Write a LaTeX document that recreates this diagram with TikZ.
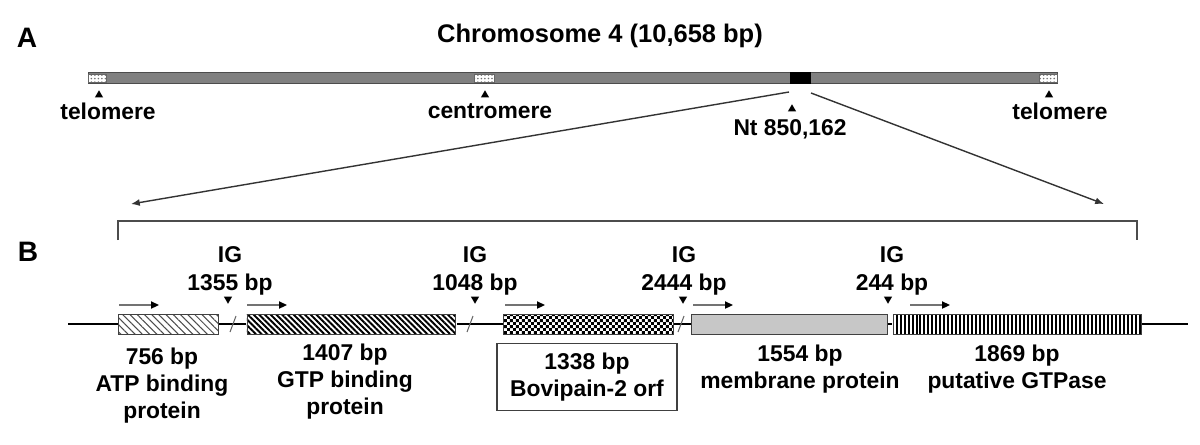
\documentclass[tikz,border=0pt]{standalone}
\usepackage{fontspec}
\setmainfont{Liberation Sans}
\usetikzlibrary{arrows.meta,patterns,patterns.meta,shapes.geometric}
\pgfdeclarepatternformonly{finecheck}{\pgfpointorigin}{\pgfpoint{3.4pt}{3.4pt}}{\pgfpoint{3.4pt}{3.4pt}}{
	\pgfpathrectangle{\pgfpointorigin}{\pgfpoint{1.7pt}{1.7pt}}
	\pgfpathrectangle{\pgfpoint{1.7pt}{1.7pt}}{\pgfpoint{1.7pt}{1.7pt}}
	\pgfusepath{fill}
}
\begin{document}
\begin{tikzpicture}[x=0.02cm, y=-0.02cm, font=\fontsize{13}{15.3}\selectfont\bfseries]
	\tikzstyle{txt}=[inner sep=0pt, align=center]
	\tikzstyle{panel}=[inner sep=0pt, font=\fontsize{16}{18}\selectfont\bfseries]
	\tikzstyle{gene}=[draw=black!75, line width=0.5pt, minimum height=4mm, inner sep=0pt, anchor=west]
	\tikzstyle{pointer}=[regular polygon, regular polygon sides=3, fill=black, inner sep=0pt, minimum size=1.9mm]
	\tikzstyle{orf}=[black!55, line width=1pt, -{Triangle[length=4.5pt, width=4pt, color=black]}]
	\tikzstyle{endcap}=[draw=black!60, line width=0.4pt, preaction={fill=white}, pattern={Dots[distance=2pt, radius=0.5pt]}, pattern color=black!55, minimum width=3.6mm, minimum height=1.6mm, inner sep=0pt]
	\useasboundingbox (0,0) rectangle (1200,444);
	
	\node[panel] (Panel-A) at (27,38) {A};
	\node[panel] (Panel-B) at (28,252) {B};
	\node[txt, font=\fontsize{14.5}{16}\selectfont\bfseries] (Title) at (600,36) {Chromosome 4 (10,658 bp)};
	
	\node[draw=black!70, fill=black!50, line width=0.5pt, minimum width=194mm, minimum height=2.1mm, inner sep=0pt] (Chr) at (573,78) {};
	\node[endcap] (Tel-L) at (97,78) {};
	\node[endcap, minimum width=4mm] (Cen) at (484,78) {};
	\node[endcap] (Tel-R) at (1048,78) {};
	\node[fill=black, minimum width=4.2mm, minimum height=2.3mm, inner sep=0pt] (Locus) at (800,78) {};
	
	\node[pointer] (Ptr-TL) at (99,95) {};
	\node[pointer] (Ptr-C) at (485,95) {};
	\node[pointer] (Ptr-TR) at (1049,95) {};
	\node[pointer] (Ptr-Nt) at (792,109) {};
	\node[txt] (Lab-TL) at (108,111) {telomere};
	\node[txt] (Lab-C) at (490,111) {centromere};
	\node[txt] (Lab-TR) at (1060,111) {telomere};
	\node[txt] (Lab-Nt) at (790,129) {Nt 850,162};
	
	\coordinate (Zoom-L) at (789,92);
	\coordinate (Zoom-R) at (811,93);
	\coordinate (Tip-L) at (131,204);
	\coordinate (Tip-R) at (1104,204);
	\draw[-{Latex[length=5pt, width=4pt]}, line width=0.8pt, black!80] (Zoom-L) -- (Tip-L);
	\draw[-{Latex[length=5pt, width=4pt]}, line width=0.8pt, black!80] (Zoom-R) -- (Tip-R);
	\draw[line width=0.8pt, black!70] (118,240) -- (118,221) -- (1137,221) -- (1137,240);
	
	\node[gene, minimum width=20mm, pattern={Lines[angle=-45, distance=2.9pt, line width=0.6pt]}, pattern color=black!70] (Gene-1) at (118,324) {};
	\node[gene, minimum width=41.8mm, pattern={Lines[angle=-45, distance=2.3pt, line width=1.1pt]}] (Gene-2) at (246,324) {};
	\node[gene, minimum width=34mm, pattern=finecheck] (Gene-3) at (503,324) {};
	\node[gene, minimum width=39.2mm, fill=black!22] (Gene-4) at (691,324) {};
	\node[gene, minimum width=49.6mm, pattern={Lines[angle=90, distance=2.268pt, line width=1.134pt]}] (Gene-5) at (892,324) {};
	
	\coordinate (Track-L) at (68,324);
	\coordinate (Track-R) at (1188,324);
	\draw[line width=0.6pt] (Track-L) -- (Gene-1.west);
	\draw[line width=0.6pt] (Gene-1.east) -- (Gene-2.west);
	\draw[line width=0.6pt] (Gene-2.east) -- (Gene-3.west);
	\draw[line width=0.6pt] (Gene-3.east) -- (Gene-4.west);
	\draw[line width=0.6pt] (Gene-4.east) -- (Gene-5.west);
	\draw[line width=0.6pt] (Gene-5.east) -- (Track-R);
	
	\draw[black!60, line width=0.6pt] (230,332) -- (236,316);
	\draw[black!60, line width=0.6pt] (467,332) -- (473,316);
	\draw[black!60, line width=0.6pt] (678,332) -- (684,316);
	
	\draw[orf] ([shift={(1,-19)}]Gene-1.west) -- ++(40,0);
	\draw[orf] ([shift={(1,-19)}]Gene-2.west) -- ++(40,0);
	\draw[orf] ([shift={(2,-19)}]Gene-3.west) -- ++(40,0);
	\draw[orf] ([shift={(2,-19)}]Gene-4.west) -- ++(40,0);
	\draw[orf] ([shift={(18,-19)}]Gene-5.west) -- ++(40,0);
	
	\node[txt, anchor=north, font=\fontsize{13}{16.3}\selectfont\bfseries] (IG-1) at (230,246) {IG\\1355 bp};
	\node[txt, anchor=north, font=\fontsize{13}{16.3}\selectfont\bfseries] (IG-2) at (475,246) {IG\\1048 bp};
	\node[txt, anchor=north, font=\fontsize{13}{16.3}\selectfont\bfseries] (IG-3) at (684,246) {IG\\2444 bp};
	\node[txt, anchor=north, font=\fontsize{13}{16.3}\selectfont\bfseries] (IG-4) at (892,246) {IG\\244 bp};
	\node[pointer, shape border rotate=180] (Ptr-1) at (228,299) {};
	\node[pointer, shape border rotate=180] (Ptr-2) at (475,299) {};
	\node[pointer, shape border rotate=180] (Ptr-3) at (683,299) {};
	\node[pointer, shape border rotate=180] (Ptr-4) at (888,299) {};
	
	\node[txt, anchor=north] (Lab-1) at (162,348) {756 bp\\ATP binding\\protein};
	\node[txt, anchor=north] (Lab-2) at (345,344) {1407 bp\\GTP binding\\protein};
	\node[txt, draw=black!75, line width=0.6pt, minimum width=36mm, minimum height=13.4mm] (Lab-3) at (587,377) {1338 bp\\Bovipain-2 orf};
	\node[txt, anchor=north] (Lab-4) at (800,345) {1554 bp\\membrane protein};
	\node[txt, anchor=north] (Lab-5) at (1017,345) {1869 bp\\putative GTPase};
\end{tikzpicture}
\end{document}
